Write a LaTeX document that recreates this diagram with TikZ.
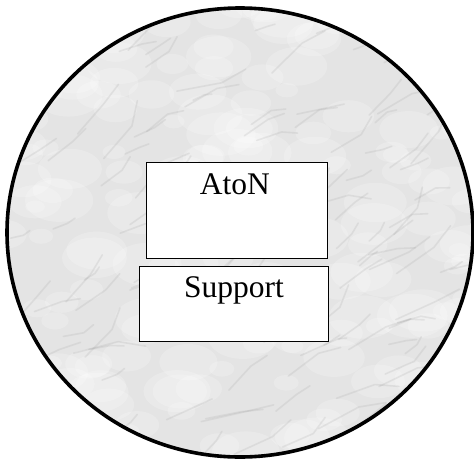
\documentclass[tikz,border=0pt]{standalone}
\usepackage{fontspec}
\setmainfont{Liberation Serif}
\usetikzlibrary{calc,positioning}
\definecolor{marble}{HTML}{E4E4E4}
\definecolor{vein}{HTML}{808080}
\tikzset{
  part/.style={draw=black, line width=1.4pt, fill=white, rectangle, inner sep=0pt},
  partlabel/.style={font=\fontsize{31.5}{36}\selectfont, anchor=base, inner sep=0pt},
}

\begin{document}
\begin{tikzpicture}[x=1pt, y=-1pt]
\useasboundingbox (0,0) rectangle (474,461);
% marble disc
\fill[marble] (240,232.5) ellipse [x radius=233, y radius=224.5];
\begin{scope}
  \clip (240,232.5) ellipse [x radius=233, y radius=224.5];
  \pgfmathsetseed{42}
  % light patches
  \foreach \k in {1,...,180}{
    \pgfmathsetmacro\px{rnd*474}
    \pgfmathsetmacro\py{rnd*461}
    \pgfmathsetmacro\pr{6+rnd*16}
    \fill[white, opacity=0.22] (\px,\py) ellipse [x radius=\pr*1.6, y radius=\pr];
  }
  % grey veins
  \foreach \k in {1,...,140}{
    \pgfmathsetmacro\vx{rnd*474}
    \pgfmathsetmacro\vy{rnd*461}
    \pgfmathsetmacro\vl{12+rnd*35}
    \pgfmathsetmacro\va{-50+rnd*40}
    \pgfmathsetmacro\vb{\va+30-rnd*60}
    \draw[vein, opacity=0.13, line width=1.6pt, line cap=round]
      (\vx,\vy) -- ++(\va:\vl) -- ++(\vb:\vl*0.6);
  }
\end{scope}
% outline of the disc
\draw[line width=3.6pt] (240,232.5) ellipse [x radius=233, y radius=224.5];
% the two parts
\node[part, minimum width=181pt, minimum height=96pt, anchor=north west] (aton) at (145.7,161.7) {};
\node[part, minimum width=189pt, minimum height=75pt, anchor=north west] (support) at (138.7,265.7) {};
\node[partlabel] (atonlabel) at ($(aton.north)+(-2,32.5)$) {AtoN};
\node[partlabel] (supportlabel) at ($(support.north)+(0,31.5)$) {Support};
\end{tikzpicture}
\end{document}
